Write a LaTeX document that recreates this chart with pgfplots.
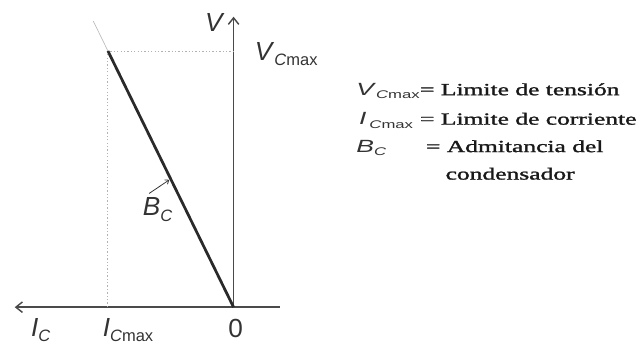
\documentclass[border=0pt]{standalone}
\usepackage{pgfplots}
\pgfplotsset{compat=1.18}
\usepackage{fontspec}
\setmainfont{Liberation Serif}
\setsansfont{Liberation Sans}
\newfontfamily\keyfont[FakeBold=1.3]{Liberation Serif}
\usetikzlibrary{arrows.meta}

\definecolor{axiscol}{HTML}{4A4A4A}
\definecolor{labelcol}{HTML}{333333}
\definecolor{linecol}{HTML}{2A2A2A}

% italic letter with a lowered, smaller subscript
\newcommand{\sub}[2]{\textit{#1}\raisebox{-0.2em}{\scalebox{0.63}{#2}}}

\begin{document}
\begin{tikzpicture}
\begin{axis}[
  scale only axis,
  width=482.25pt, height=261.75pt,
  x dir=reverse,
  xmin=-3.1641, xmax=1.8594,
  ymin=-0.1379, ymax=1.1992,
  hide axis, clip=false,
]
\path (rel axis cs:0,0) rectangle (rel axis cs:1,1);

% current (leftwards) and voltage (upwards) axes
\addplot[axiscol, line width=1.1pt, -{Straight Barb[length=5pt,width=8pt]}]
  coordinates {(-0.367,0) (1.742,0)};
\addplot[axiscol, line width=1.1pt, -{Straight Barb[length=5pt,width=8pt]}]
  coordinates {(0,0) (0,1.134)};

% limits I_Cmax and V_Cmax
\addplot[gray!60, line width=0.7pt, dash pattern=on 1pt off 1.6pt]
  coordinates {(1,0) (1,1) (0,1)};

% capacitor characteristic and its extension
\addplot[gray!55, line width=0.5pt] coordinates {(1,1) (1.117,1.117)};
\addplot[linecol, line width=2.1pt] coordinates {(0,0) (1,1)};

% B_C callout
\draw[labelcol, line width=0.6pt, -{Straight Barb[length=2.5pt,width=4pt]}]
  (axis cs:0.672,0.444) -- (axis cs:0.512,0.497);

% axis labels
\begin{scope}[every node/.style={text=labelcol, font=\fontsize{20}{24}\sffamily}]
\node[anchor=center] at (axis cs:0.148,1.111) {\textit{V}};
\node[anchor=base west] at (axis cs:-0.133,0.962) {\sub{V}{\textit{C}max}};
\node[anchor=base west] at (axis cs:1.648,-0.115) {\sub{I}{\textit{C}}};
\node[anchor=base west] at (axis cs:1.078,-0.115) {\sub{I}{\textit{C}max}};
\node[anchor=base] at (axis cs:-0.016,-0.119) {0};
\node[anchor=base west] at (axis cs:0.758,0.356) {\sub{B}{\textit{C}}};
\end{scope}

% key to the symbols
\begin{scope}[every node/.style={text=labelcol, xscale=1.5, anchor=base west,
    font=\fontsize{13.5}{16}\sffamily}]
\node at (axis cs:-0.922,0.8276) {\sub{V}{\textit{C}max}};
\node at (axis cs:-0.945,0.7126) {\sub{I}{\,\textit{C}max}};
\node at (axis cs:-0.922,0.6054) {\sub{B}{\textit{C}}};
\end{scope}
\begin{scope}[every node/.style={text=black!90, xscale=1.5, anchor=base west,
    font=\fontsize{13}{16}\keyfont}]
\node at (axis cs:-1.430,0.8276) {= Limite de tensión};
\node at (axis cs:-1.430,0.7126) {= Limite de corriente};
\node at (axis cs:-1.477,0.6054) {= Admitancia del};
\node at (axis cs:-1.633,0.4981) {condensador};
\end{scope}
\end{axis}
\end{tikzpicture}
\end{document}
